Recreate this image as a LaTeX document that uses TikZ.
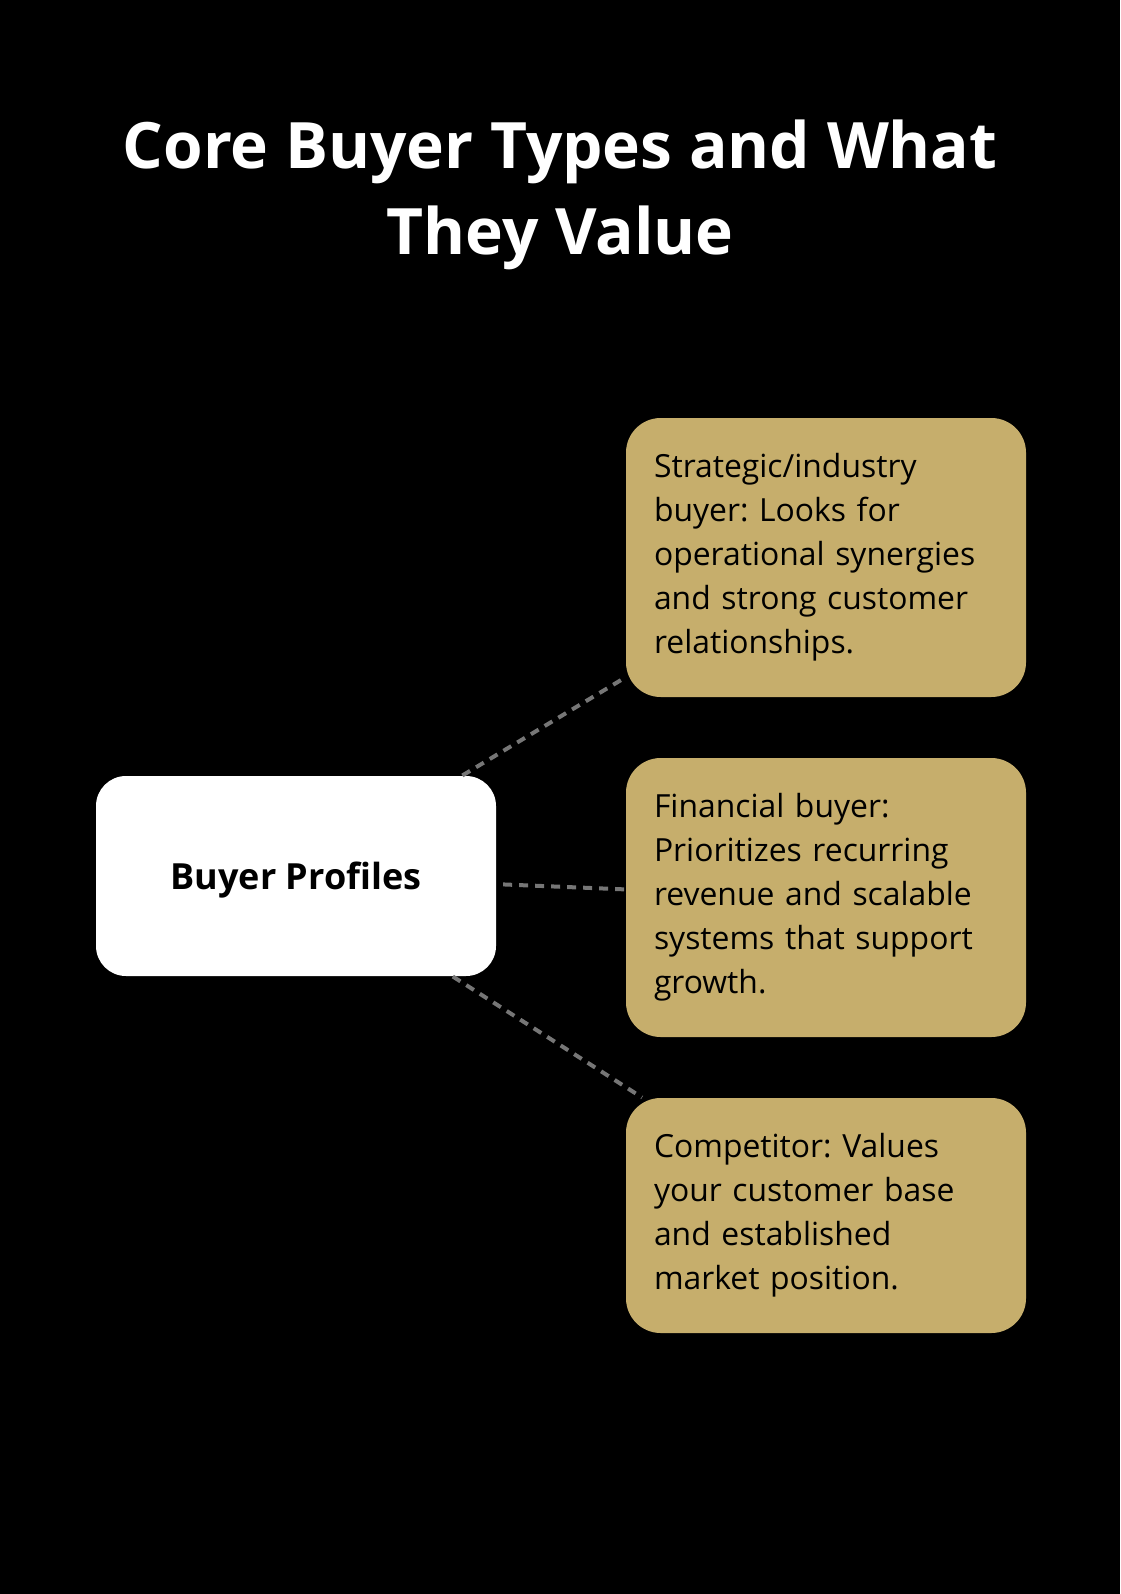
\documentclass[tikz,border=0pt]{standalone}
\usepackage{fontspec}
\setmainfont{Open Sans}
\frenchspacing
\definecolor{typegold}{HTML}{C6AE6C}
\definecolor{linkgray}{HTML}{767676}

\tikzset{every picture/.style={line width=0.75pt}}
\tikzset{
  titletext/.style={text=white, align=center, font=\bfseries\fontsize{48pt}{64pt}\selectfont},
  hubbox/.style={fill=white, rounded corners=22.5pt, minimum width=300pt, minimum height=150pt, text depth=0pt, font=\bfseries\fontsize{27pt}{33pt}\selectfont},
  typebox/.style={fill=typegold, rounded corners=26pt, text width=258pt, inner xsep=21pt, align=left, font=\fontsize{23.9pt}{33pt}\selectfont},
  link/.style={draw=linkgray, line width=3pt, dash pattern=on 6.75pt off 5.25pt}
}

\begin{document}
\begin{tikzpicture}[x=0.75pt,y=0.75pt,yscale=-1,xscale=1]
%black page, sets the size
\fill[black] (0,0) rectangle (1120,1594);

%Title
\node[titletext] (title) at (560,195) {Core Buyer Types and What\\They Value};

%Hub
\node[hubbox] (profiles) at (296,876) {Buyer Profiles};

%Buyer types
\node[typebox, minimum height=209.25pt] (strategic) at (826,557.5) {Strategic/industry\\buyer: Looks for\\operational synergies\\and strong customer\\relationships.};
\node[typebox, minimum height=209.25pt] (financial) at (826,897.5) {Financial buyer:\\Prioritizes recurring\\revenue and scalable\\systems that support\\growth.};
\node[typebox, minimum height=176.25pt] (competitor) at (826,1215.5) {Competitor: Values\\your customer base\\and established\\market position.};

%Links
\draw[link] (profiles) -- (strategic);
\draw[link, shorten <=5pt] (profiles) -- (financial);
\draw[link] (profiles) -- (competitor);

\end{tikzpicture}
\end{document}
